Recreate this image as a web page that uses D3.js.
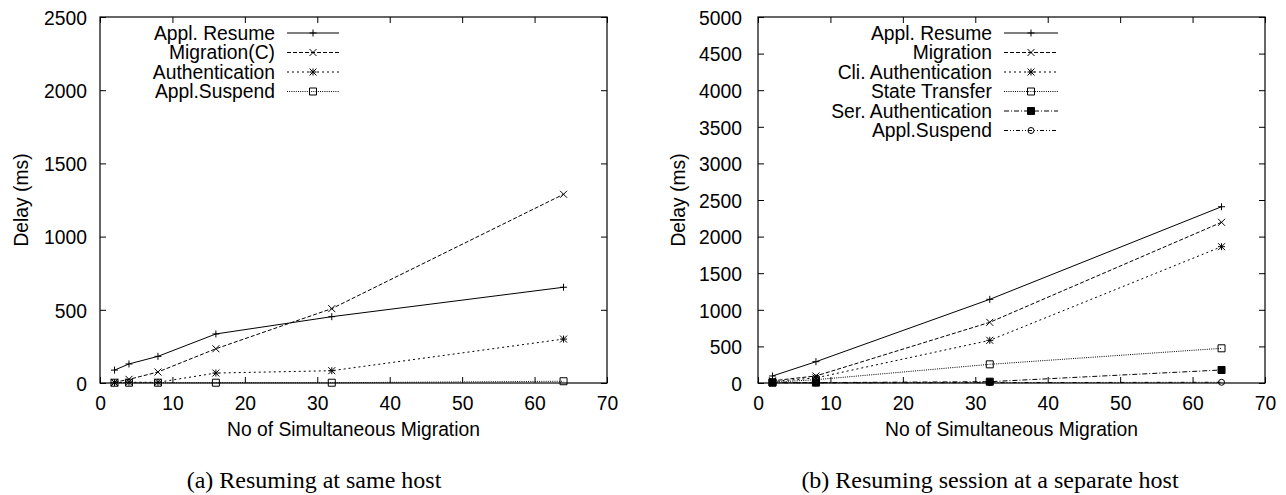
<!DOCTYPE html>
<html>
<head>
<meta charset="utf-8">
<script src="https://cdn.jsdelivr.net/npm/d3@7/dist/d3.min.js"></script>
<style>
  html, body { margin: 0; padding: 0; background: #fff; }
  svg { display: block; }
</style>
</head>
<body>
<svg id="fig" width="1286" height="495"></svg>
<script>
// ---- data -------------------------------------------------------------
const xTicks = [0, 10, 20, 30, 40, 50, 60, 70];
const yTicksA = [0, 500, 1000, 1500, 2000, 2500];
const yTicksB = [0, 500, 1000, 1500, 2000, 2500, 3000, 3500, 4000, 4500, 5000];

// (a) resuming at the same host
const hostsA = [2, 4, 8, 16, 32, 64];
const resumeA = [88, 130, 182, 335, 453, 654];
const migrationA = [5, 25, 75, 234, 508, 1289];
const authA = [2, 5, 5, 68, 84, 300];
const suspendA = [2, 2, 2, 2, 2, 12];

// (b) resuming the session at a separate host
const hostsB = [2, 8, 32, 64];
const resumeB = [96, 291, 1143, 2408];
const migrationB = [30, 96, 829, 2195];
const cliAuthB = [20, 70, 583, 1862];
const stateB = [10, 45, 255, 474];
const serAuthB = [5, 5, 18, 178];
const suspendB = [2, 2, 5, 10];

const labelsA = ["Appl. Resume", "Migration(C)", "Authentication", "Appl.Suspend"];
const labelsB = ["Appl. Resume", "Migration", "Cli. Authentication", "State Transfer", "Ser. Authentication", "Appl.Suspend"];

// ---- styling ----------------------------------------------------------
const SANS = "'Liberation Sans', Arial, Helvetica, sans-serif";
const SERIF = "'Liberation Serif', 'Times New Roman', Times, serif";
const FS = 19.3;
const plain = d3.format("d");

// gnuplot-like line types: dash arrays and point shapes
const dashes = [null, "4,2", "2,3", "1,1.2", "5,2,1,2", "4,2,1,2,1,2"];
const shapes = ["plus", "cross", "star", "square", "filledSquare", "circle"];

function markerPath(shape, cx, cy, h) {
  switch (shape) {
    case "plus":
      return `M${cx - h},${cy}H${cx + h}M${cx},${cy - h}V${cy + h}`;
    case "cross":
      return `M${cx - h},${cy - h}L${cx + h},${cy + h}M${cx - h},${cy + h}L${cx + h},${cy - h}`;
    case "star":
      return `M${cx - h},${cy}H${cx + h}M${cx},${cy - h}V${cy + h}` +
             `M${cx - h},${cy - h}L${cx + h},${cy + h}M${cx - h},${cy + h}L${cx + h},${cy - h}`;
    default:
      return `M${cx - h},${cy - h}H${cx + h}V${cy + h}H${cx - h}Z`;
  }
}

function drawMarker(g, shape, cx, cy) {
  const h = 3.5;
  if (shape === "circle") {
    g.append("circle").attr("cx", cx).attr("cy", cy).attr("r", 3)
      .attr("fill", "none").attr("stroke", "#000").attr("stroke-width", 1);
    return;
  }
  g.append("path")
    .attr("d", markerPath(shape, cx, cy, h))
    .attr("fill", shape === "filledSquare" ? "#000" : "none")
    .attr("stroke", "#000").attr("stroke-width", 1);
}

const svg = d3.select("#fig");
svg.append("rect").attr("width", 1286).attr("height", 495).attr("fill", "#fff");

function panel(cfg) {
  const x = d3.scaleLinear().domain([0, 70]).range([cfg.left, cfg.right]);
  const y = d3.scaleLinear().domain([0, cfg.yMax]).range([cfg.bottom, cfg.top]);
  const g = svg.append("g");

  // axes with inward ticks on all four sides
  const bottom = g.append("g").attr("transform", `translate(0,${cfg.bottom})`)
    .call(d3.axisBottom(x).tickValues(xTicks).tickSize(-6).tickPadding(0).tickFormat(plain));
  const top = g.append("g").attr("transform", `translate(0,${cfg.top})`)
    .call(d3.axisTop(x).tickValues(xTicks).tickSize(-6).tickFormat(""));
  const leftAx = g.append("g").attr("transform", `translate(${cfg.left},0)`)
    .call(d3.axisLeft(y).tickValues(cfg.yTicks).tickSize(-6).tickPadding(0).tickFormat(plain));
  const rightAx = g.append("g").attr("transform", `translate(${cfg.right},0)`)
    .call(d3.axisRight(y).tickValues(cfg.yTicks).tickSize(-6).tickFormat(""));

  [bottom, top, leftAx, rightAx].forEach(a => {
    a.select(".domain").remove();
    a.selectAll(".tick line").attr("stroke", "#000").attr("stroke-width", 1);
  });
  bottom.selectAll(".tick text")
    .attr("font-family", SANS).attr("font-size", FS).attr("fill", "#000")
    .attr("y", 410 - cfg.bottom).attr("dy", null);
  leftAx.selectAll(".tick text")
    .attr("font-family", SANS).attr("font-size", FS).attr("fill", "#000")
    .attr("x", cfg.labelRight - cfg.left).attr("dy", "0.38em");

  // frame
  g.append("rect")
    .attr("x", cfg.left).attr("y", cfg.top)
    .attr("width", cfg.right - cfg.left).attr("height", cfg.bottom - cfg.top)
    .attr("fill", "none").attr("stroke", "#000").attr("stroke-width", 1.2);

  // axis titles
  g.append("text")
    .attr("x", (cfg.left + cfg.right) / 2).attr("y", 436)
    .attr("text-anchor", "middle").attr("font-family", SANS).attr("font-size", FS)
    .text("No of Simultaneous Migration");
  g.append("text")
    .attr("transform", `translate(${cfg.yLabelX},${(cfg.top + cfg.bottom) / 2}) rotate(-90)`)
    .attr("text-anchor", "middle").attr("dy", "0.35em")
    .attr("font-family", SANS).attr("font-size", FS)
    .text("Delay (ms)");

  // series
  const line = d3.line().x(d => x(d[0])).y(d => y(d[1]));
  cfg.series.forEach((vals, i) => {
    const pts = cfg.hosts.map((h, k) => [h, vals[k]]);
    g.append("path").datum(pts)
      .attr("d", line).attr("fill", "none")
      .attr("stroke", "#000").attr("stroke-width", 1)
      .attr("stroke-dasharray", dashes[i]);
    pts.forEach(p => drawMarker(g, shapes[i], x(p[0]), y(p[1])));
  });

  // key
  cfg.labels.forEach((lab, i) => {
    const cy = 33 + 19.5 * i;
    g.append("text")
      .attr("x", cfg.keyRight).attr("y", cy + 6.5)
      .attr("text-anchor", "end").attr("font-family", SANS).attr("font-size", FS)
      .text(lab);
    g.append("line")
      .attr("x1", cfg.sample[0]).attr("x2", cfg.sample[1])
      .attr("y1", cy).attr("y2", cy)
      .attr("stroke", "#000").attr("stroke-width", 1)
      .attr("stroke-dasharray", dashes[i]);
    drawMarker(g, shapes[i], (cfg.sample[0] + cfg.sample[1]) / 2, cy);
  });

  // caption
  g.append("text")
    .attr("x", cfg.captionX).attr("y", 488)
    .attr("text-anchor", "middle").attr("font-family", SERIF).attr("font-size", 24)
    .text(cfg.caption);
}

panel({
  left: 100, right: 607, top: 17, bottom: 383,
  yMax: 2500, yTicks: yTicksA, labelRight: 87, yLabelX: 21,
  hosts: hostsA, series: [resumeA, migrationA, authA, suspendA], labels: labelsA,
  keyRight: 275, sample: [287, 339],
  caption: "(a) Resuming at same host", captionX: 314
});

panel({
  left: 758, right: 1265, top: 17, bottom: 383,
  yMax: 5000, yTicks: yTicksB, labelRight: 742, yLabelX: 678,
  hosts: hostsB, series: [resumeB, migrationB, cliAuthB, stateB, serAuthB, suspendB], labels: labelsB,
  keyRight: 992, sample: [1004, 1058],
  caption: "(b) Resuming session at a separate host", captionX: 990
});
</script>
</body>
</html>
